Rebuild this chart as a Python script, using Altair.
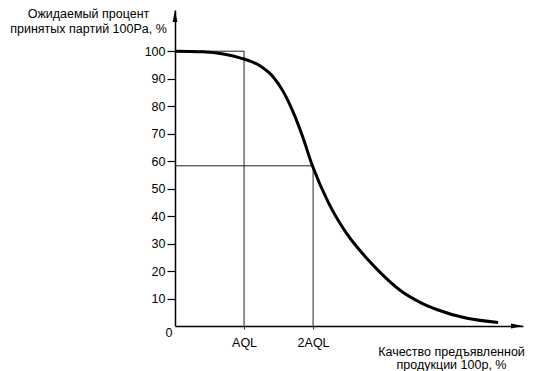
import altair as alt
import pandas as pd

# OC-curve (x in AQL units, y in %)
quality = [0, 0.4, 0.7, 0.94, 1.23, 1.42, 1.57, 1.71, 1.84, 1.99, 2.22, 2.49, 2.80, 2.97, 3.26, 3.55, 3.79, 4.23, 4.68]
accepted = [100, 99.8, 99.0, 97.6, 94.7, 90.7, 85.2, 77.9, 69.5, 58.3, 45.0, 33.5, 24.0, 19.5, 13.0, 8.6, 6.0, 2.8, 1.3]

# reference markers: AQL and 2AQL with the accepted percentages
ref_x = [1, 2]
ref_y = [100, 58.3]
ref_labels = ["AQL", "2AQL"]

y_ticks = [10, 20, 30, 40, 50, 60, 70, 80, 90, 100]
X_MAX = 5.04
Y_MAX = 115

FONT = "Liberation Sans"

curve_df = pd.DataFrame({"q": quality, "pa": accepted})
ref_df = pd.DataFrame({"q": ref_x, "pa": ref_y, "zero": [0, 0], "lab": ref_labels})

xs = alt.Scale(domain=[0, X_MAX], nice=False, zero=False)
ys = alt.Scale(domain=[0, Y_MAX], nice=False, zero=False)

x_axis = alt.Axis(
    values=ref_x, tickCount=4,
    labelExpr="datum.value == 1 ? 'AQL' : '2AQL'",
    title=["Качество предъявленной", "продукции 100p, %"],
    titleX=276, titleY=19, titleAlign="center", titleBaseline="top",
    titleFont=FONT, titleFontSize=12.5, titleFontWeight="normal", titleLineHeight=13,
    labelFont=FONT, labelFontSize=12.5, labelPadding=7, labelColor="black",
    labelOverlap=False,
    tickSize=3, tickColor="#222", tickWidth=1,
    domainColor="black", domainWidth=1.5, grid=False, titleColor="black",
)
y_axis = alt.Axis(
    values=y_ticks, tickCount=12,
    title=["Ожидаемый процент", "принятых партий 100Pa, %"],
    titleX=-87, titleY=-3, titleAngle=0, titleAlign="center", titleBaseline="top",
    titleFont=FONT, titleFontSize=12.5, titleFontWeight="normal", titleLineHeight=15,
    labelFont=FONT, labelFontSize=12.5, labelPadding=2, labelColor="black",
    labelOverlap=False,
    tickSize=8, tickColor="black", tickWidth=1.2,
    domainColor="black", domainWidth=1.5, grid=False, titleColor="black",
)

base_axes = alt.Chart(curve_df).mark_line(opacity=0).encode(
    x=alt.X("q:Q", scale=xs, axis=x_axis),
    y=alt.Y("pa:Q", scale=ys, axis=y_axis),
)

vlines = alt.Chart(ref_df).mark_rule(color="#222", strokeWidth=1).encode(
    x=alt.X("q:Q", scale=xs), y=alt.Y("zero:Q", scale=ys), y2="pa:Q"
)
hlines = alt.Chart(ref_df).mark_rule(color="#222", strokeWidth=1).encode(
    y=alt.Y("pa:Q", scale=ys), x=alt.X("zero:Q", scale=xs), x2="q:Q"
)

curve = alt.Chart(curve_df).mark_line(
    color="black", strokeWidth=3, interpolate="monotone"
).encode(x=alt.X("q:Q", scale=xs), y=alt.Y("pa:Q", scale=ys))

zero_df = pd.DataFrame({"q": [0], "pa": [0], "t": ["0"]})
zero_lbl = alt.Chart(zero_df).mark_text(
    font=FONT, fontSize=12.5, dx=-6, dy=7, color="black"
).encode(x=alt.X("q:Q", scale=xs), y=alt.Y("pa:Q", scale=ys), text="t:N")

up_df = pd.DataFrame({"q": [0], "pa": [Y_MAX]})
right_df = pd.DataFrame({"q": [X_MAX], "pa": [0]})
arrow_up = alt.Chart(up_df).mark_point(
    shape="M0,0L-0.4,2L0.4,2Z", size=144, filled=True, color="black", opacity=1
).encode(x=alt.X("q:Q", scale=xs), y=alt.Y("pa:Q", scale=ys))
arrow_right = alt.Chart(right_df).mark_point(
    shape="M0,0L-2,-0.4L-2,0.4Z", size=144, filled=True, color="black", opacity=1
).encode(x=alt.X("q:Q", scale=xs), y=alt.Y("pa:Q", scale=ys))

chart = alt.layer(
    base_axes, vlines, hlines, curve, zero_lbl, arrow_up, arrow_right
).properties(
    width=348, height=316,
    autosize=alt.AutoSizeParams(type="none"),
    padding={"left": 167, "top": 2, "right": 3, "bottom": 45},
    background="white",
).configure_view(stroke=None)

chart.save("out.html", embed_options={"renderer": "svg", "actions": False})
